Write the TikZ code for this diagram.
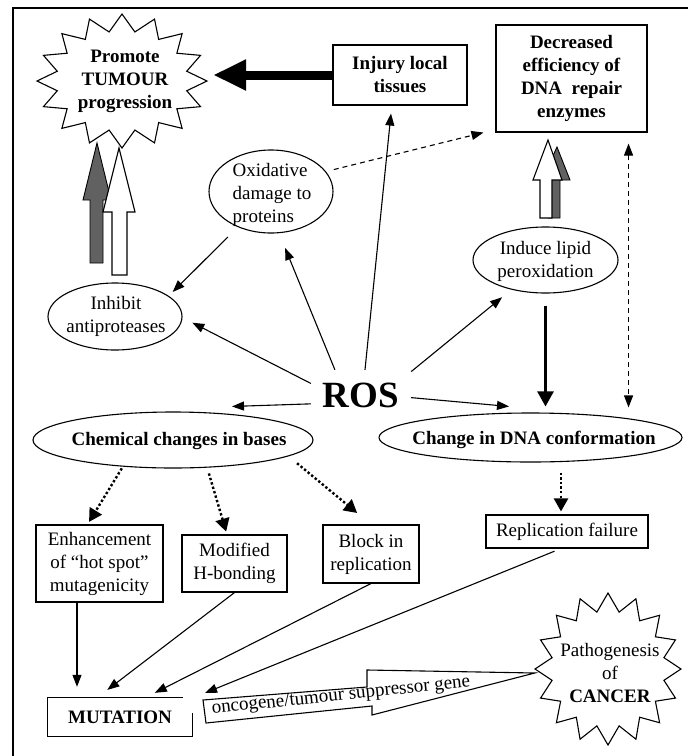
\documentclass[tikz,border=0pt]{standalone}
\usepackage{fontspec}
\setmainfont{Liberation Serif}
\usetikzlibrary{arrows.meta,shapes.geometric}
\begin{document}
\begin{tikzpicture}[x=1pt,y=-1pt,
  every node/.style={font=\fontsize{19}{23}\selectfont, inner sep=0pt},
  bx/.style={draw, line width=1.1pt, align=center},
  el/.style={draw, ellipse, line width=1.1pt},
  bf/.style={font=\bfseries\fontsize{19}{23}\selectfont},
  thin/.style={line width=1.1pt, -{Triangle[length=12pt,width=9pt]}},
  dashar/.style={line width=1.1pt, dash pattern=on 5pt off 4pt, -{Triangle[length=12pt,width=9pt]}},
  dotar/.style={line width=2.4pt, dash pattern=on 2.4pt off 2.2pt, -{Triangle[length=13pt,width=14pt]}},
  greyarr/.style={draw, line width=0.9pt, fill=black!62},
  whitearr/.style={draw, line width=1.1pt, fill=white},
  starline/.style={draw, line width=1.1pt, line join=miter}
]
\useasboundingbox (0,0) rectangle (688,756);
% frame
\draw[line width=2pt] (13,756) -- (13,8) -- (688,8);

% Promote star
\draw[starline, shift={(122,81)}] plot[samples at={0,...,31}]
  ({\x*11.25+90}:{85-19*mod(\x,2)} and {67-17*mod(\x,2)}) -- cycle;
\node[bf, align=center, minimum width=176pt, minimum height=132pt] (prom) at (125,81)
  {Promote\\TUMOUR\\progression};

% Cancer star
\draw[starline, shift={(608,669)}] plot[samples at={0,...,31}]
  ({\x*11.25+90}:{73-16*mod(\x,2)} and {76-18*mod(\x,2)}) -- cycle;
\node[align=center, minimum width=150pt, minimum height=150pt] (can) at (610,673)
  {Pathogenesis\\of\\\textbf{CANCER}};

% boxes
\node[bx, bf, minimum width=134pt, minimum height=60pt] (inj) at (400,75) {Injury local\\tissues};
\node[bx, bf, minimum width=151pt, minimum height=107pt] (dec) at (571.5,78.5)
  {Decreased\\efficiency of\\DNA\ \ repair\\enzymes};
\node[bx, minimum width=127pt, minimum height=77pt] (enh) at (99.5,563.5)
  {Enhancement\\of “hot spot”\\mutagenicity};
\node[bx, minimum width=105pt, minimum height=57pt] (mod) at (234.5,563.5) {Modified\\H-bonding};
\node[bx, minimum width=96pt, minimum height=58pt] (blk) at (371,554) {Block in\\replication};
\node[bx, minimum width=162pt, minimum height=33pt] (rep) at (567,531.5) {Replication failure};
\node[bf, minimum width=144pt, minimum height=38pt] (mut) at (120,717) {MUTATION};
\draw[line width=1.1pt] ([xshift=-9pt]mut.north east) -- (mut.north west) -- (mut.south west)
  -- (mut.south east) -- ([yshift=-15pt]mut.north east);

% ellipses (outline) and their texts
\node[el, minimum width=124pt, minimum height=83pt] (ox) at (271,191.5) {};
\node[align=left] (oxt) at (272,195) {Oxidative\\damage to\\proteins};
\node[el, minimum width=134pt, minimum height=67pt] (inh) at (115,316.5) {};
\node[align=center] (inht) at (116,316) {Inhibit\\antiproteases};
\node[el, minimum width=145pt, minimum height=66pt] (lip) at (545.5,260) {};
\node[align=center] (lipt) at (545.5,261) {Induce lipid\\peroxidation};
\node[el, minimum width=280pt, minimum height=56pt] (chem) at (173,440) {};
\node[bf] (chemt) at (179,441) {Chemical changes in bases};
\node[el, minimum width=303pt, minimum height=49pt] (chg) at (530.5,437.5) {};
\node[bf] (chgt) at (534,440) {Change in DNA conformation};

% ROS
\node[font=\bfseries\fontsize{37}{40}\selectfont, minimum width=100pt, minimum height=50pt] (ros) at (361,395) {ROS};

% hollow / grey arrows (left pair)
\path[greyarr] (90,263) -- (90,200) -- (83,200) -- (97,143) -- (111,200) -- (103,200) -- (103,263) -- cycle;
\path[whitearr] (112,275) -- (112,212) -- (103,212) -- (119,148) -- (135,212) -- (127,212) -- (127,275) -- cycle;
% right pair
\path[greyarr] (548,218) -- (548,180) -- (542,180) -- (557,147) -- (570,180) -- (560,180) -- (560,218) -- cycle;
\path[whitearr] (540,218) -- (540,180) -- (533,180) -- (548,140) -- (562,180) -- (552,180) -- (552,218) -- cycle;

% thick arrow injury -> promote
\draw[line width=9pt, -{Triangle[length=33pt,width=29pt]}] (inj.west) -- (inj.west -| prom.east);

% ROS arrows
\draw[thin, shorten >=11pt] (ros.167) -- (inh.-1);
\draw[thin, shorten >=16pt] (ros.136) -- (ox.-79);
\draw[thin, shorten >=8pt] (ros.81) -- (inj.-105);
\draw[thin, shorten >=12pt] (ros.25) -- (lip.-139);
\draw[thin] (ros.-3) -- ([shift={(-21.5,-6)}]chg.north);
\draw[thin] (ros.190) -- ([shift={(59,-5)}]chem.north);

\draw[thin, shorten <=14pt, shorten >=5.5pt] (ox.-133) -- (inh.21);
\draw[dashar, shorten <=8pt] (ox.20) -- ([xshift=-12pt]dec.south west);

% lipid -> change in DNA
\draw[line width=2.6pt, -{Triangle[length=15pt,width=16pt]}, shorten <=12pt, shorten >=6pt]
  (lip.south) -- (lip.south |- chg.north);

% dashed bidirectional
\path ([xshift=-19pt]dec.south east) coordinate (dv);
\draw[line width=1.1pt, dash pattern=on 5pt off 4pt,
  {Triangle[length=12pt,width=9pt]}-{Triangle[length=12pt,width=9pt]}, shorten <=11pt, shorten >=5pt]
  (dv) -- (dv |- chg.north);

% dotted arrows
\draw[dotar, shorten <=2pt, shorten >=3pt] (chem.-152) -- ([xshift=-12pt]enh.north);
\draw[dotar, shorten <=6pt, shorten >=3pt] (chem.-39) -- ([xshift=-7.5pt]mod.north);
\draw[dotar, shorten <=11pt, shorten >=18pt] (chem.-8) -- (blk.north);
\path ([xshift=-6pt]rep.north) coordinate (rn);
\draw[dotar, shorten <=10pt, shorten >=3pt] (rn |- chg.south) -- (rn);

% to MUTATION
\draw[thin, shorten >=11pt] ([xshift=-22.5pt]enh.south) -- ([xshift=-43pt]mut.north);
\draw[thin, shorten >=13pt] (mod.south) -- ([xshift=-23pt]mut.north);
\draw[thin, shorten >=11pt] (blk.south) -- ([xshift=25pt]mut.north);
\draw[thin, shorten <=7pt, shorten >=13pt] ([xshift=-6pt]rep.south) -- ([xshift=73pt]mut.north);

% oncogene arrow
\draw[line width=1.1pt, line join=miter] (203,700) -- (367,687) -- (367,670) -- (can.west)
  -- (372,715) -- (372,706) -- (206,723) -- cycle;
\node[rotate=6] (onco) at (341,696) {oncogene/tumour suppressor gene};
\end{tikzpicture}
\end{document}
